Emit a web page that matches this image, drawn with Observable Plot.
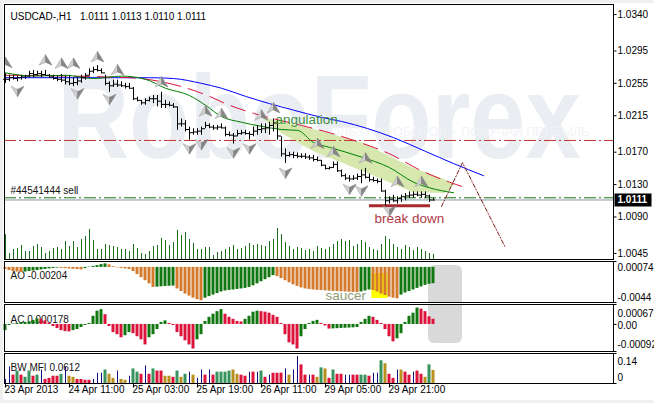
<!DOCTYPE html>
<html><head><meta charset="utf-8">
<script src="https://cdn.jsdelivr.net/npm/d3@7"></script>
<script src="https://cdn.jsdelivr.net/npm/@observablehq/plot@0.6"></script>
<style>
html,body{margin:0;padding:0;background:#f0f0f0;}
#wrap{position:relative;width:654px;height:403px;overflow:hidden;background:#f0f0f0;}
#paper{position:absolute;left:3px;top:3px;width:651px;height:397px;background:#fff;}
#wrap svg{position:absolute;left:0;top:0;}
</style></head>
<body><div id="wrap"><div id="paper"></div></div>
<script>
// ---------- DATA ----------
const highs = [1.0267,1.0265,1.0265,1.0264,1.0265,1.0265,1.0270,1.0271,1.0270,1.0270,
 1.0271,1.0266,1.0265,1.0264,1.0266,1.0264,1.0264,1.0262,1.0262,1.0265,
 1.0267,1.0273,1.0275,1.0277,1.0273,1.0265,1.0257,1.0259,1.0259,1.0257,
 1.0255,1.0255,1.0250,1.0238,1.0234,1.0236,1.0238,1.0240,1.0240,1.0244,
 1.0234,1.0232,1.0230,1.0226,1.0211,1.0209,1.0201,1.0199,1.0199,1.0201,
 1.0207,1.0205,1.0203,1.0203,1.0205,1.0201,1.0195,1.0193,1.0197,1.0197,
 1.0197,1.0195,1.0201,1.0203,1.0205,1.0205,1.0207,1.0211,1.0209,1.0189,
 1.0174,1.0170,1.0170,1.0169,1.0168,1.0168,1.0166,1.0166,1.0164,1.0160,
 1.0154,1.0152,1.0158,1.0158,1.0148,1.0143,1.0141,1.0141,1.0143,1.0148,
 1.0150,1.0143,1.0139,1.0137,1.0137,1.0123,1.0115,1.0117,1.0115,1.0117,
 1.0119,1.0121,1.0121,1.0121,1.0121,1.0121,1.0117,1.0113];
const lows = [1.0255,1.0257,1.0259,1.0257,1.0259,1.0260,1.0262,1.0262,1.0264,1.0262,
 1.0264,1.0261,1.0259,1.0257,1.0256,1.0253,1.0252,1.0251,1.0252,1.0255,
 1.0259,1.0264,1.0267,1.0269,1.0267,1.0252,1.0244,1.0250,1.0250,1.0250,
 1.0248,1.0248,1.0234,1.0232,1.0228,1.0228,1.0232,1.0230,1.0226,1.0224,
 1.0224,1.0226,1.0224,1.0197,1.0201,1.0195,1.0185,1.0191,1.0191,1.0191,
 1.0199,1.0199,1.0197,1.0197,1.0199,1.0189,1.0189,1.0180,1.0189,1.0191,
 1.0191,1.0185,1.0189,1.0191,1.0193,1.0193,1.0191,1.0195,1.0185,1.0164,
 1.0156,1.0164,1.0162,1.0162,1.0162,1.0161,1.0160,1.0158,1.0158,1.0152,
 1.0148,1.0148,1.0150,1.0145,1.0139,1.0135,1.0133,1.0135,1.0135,1.0131,
 1.0137,1.0133,1.0133,1.0131,1.0121,1.0104,1.0106,1.0108,1.0106,1.0108,
 1.0110,1.0113,1.0113,1.0115,1.0113,1.0113,1.0108,1.0110];
const closes = [1.0260,1.0262,1.0261,1.0262,1.0263,1.0264,1.0267,1.0266,1.0267,1.0266,
 1.0265,1.0263,1.0261,1.0260,1.0259,1.0257,1.0255,1.0256,1.0258,1.0262,
 1.0265,1.0270,1.0272,1.0271,1.0268,1.0255,1.0252,1.0254,1.0253,1.0252,
 1.0251,1.0249,1.0236,1.0234,1.0231,1.0234,1.0236,1.0236,1.0233,1.0229,
 1.0229,1.0228,1.0226,1.0205,1.0205,1.0198,1.0194,1.0195,1.0196,1.0199,
 1.0203,1.0201,1.0200,1.0201,1.0200,1.0192,1.0191,1.0190,1.0193,1.0194,
 1.0193,1.0192,1.0196,1.0198,1.0199,1.0200,1.0203,1.0206,1.0190,1.0168,
 1.0166,1.0167,1.0166,1.0165,1.0165,1.0164,1.0163,1.0161,1.0160,1.0154,
 1.0150,1.0151,1.0155,1.0147,1.0141,1.0138,1.0137,1.0138,1.0140,1.0142,
 1.0139,1.0136,1.0135,1.0134,1.0122,1.0110,1.0112,1.0110,1.0113,1.0115,
 1.0116,1.0117,1.0118,1.0117,1.0118,1.0116,1.0111,1.0111];
const volumes = [1000,240,400,440,560,320,320,520,600,480,
 240,320,440,480,400,720,520,720,480,800,
 920,1200,760,400,400,600,560,520,480,400,
 400,320,600,440,240,200,320,520,560,840,
 760,560,680,1160,960,1080,800,640,400,400,
 480,480,160,280,320,400,480,560,400,440,
 520,640,560,600,560,520,720,800,1240,1000,
 680,520,400,480,440,360,400,320,520,440,
 400,480,600,720,800,720,760,520,600,760,
 680,480,400,360,600,920,800,600,480,400,
 560,480,360,480,400,320,240,200];
const aoValues = [-0.00026,-0.00039,-0.00051,-0.00058,-0.00064,-0.00058,-0.00051,-0.00045,-0.00039,-0.00032,
 -0.00026,-0.00019,-0.00013,-0.00008,-0.00012,-0.00015,-0.00019,-0.00023,-0.00027,-0.00031,
 -0.00015,0.00004,0.00013,0.00023,0.00035,0.00044,0.00032,0.00010,-0.00006,-0.00013,
 -0.00019,-0.00026,-0.00051,-0.00090,-0.00129,-0.00167,-0.00206,-0.00251,-0.00247,-0.00243,
 -0.00239,-0.00236,-0.00234,-0.00270,-0.00302,-0.00334,-0.00360,-0.00386,-0.00405,-0.00418,
 -0.00386,-0.00366,-0.00347,-0.00328,-0.00308,-0.00296,-0.00289,-0.00283,-0.00276,-0.00270,
 -0.00263,-0.00251,-0.00231,-0.00206,-0.00180,-0.00154,-0.00129,-0.00103,-0.00116,-0.00141,
 -0.00167,-0.00193,-0.00218,-0.00238,-0.00257,-0.00270,-0.00276,-0.00283,-0.00287,-0.00290,
 -0.00294,-0.00298,-0.00301,-0.00303,-0.00306,-0.00308,-0.00311,-0.00314,-0.00316,-0.00308,
 -0.00296,-0.00283,-0.00289,-0.00308,-0.00334,-0.00353,-0.00373,-0.00386,-0.00394,-0.00347,
 -0.00321,-0.00302,-0.00283,-0.00263,-0.00244,-0.00225,-0.00212,-0.00204];
const acValues = [-0.000209,-0.000035,0.000017,0.000035,0.000052,0.000070,0.000087,0.000139,0.000191,0.000174,
 0.000122,0.000035,-0.000070,-0.000139,-0.000209,-0.000244,-0.000254,-0.000209,-0.000174,-0.000104,
 -0.000035,0.000035,0.000278,0.000452,0.000505,0.000331,-0.000070,-0.000278,-0.000348,-0.000452,
 -0.000383,-0.000278,-0.000313,-0.000418,-0.000522,-0.000696,-0.000452,-0.000348,-0.000174,0.000070,
 0.000122,0.000035,-0.000035,-0.000278,-0.000418,-0.000557,-0.000696,-0.000835,-0.000522,-0.000348,
 0.000104,0.000244,0.000348,0.000435,0.000505,0.000348,0.000244,0.000174,0.000104,0.000087,
 0.000174,0.000278,0.000418,0.000452,0.000435,0.000418,0.000383,0.000313,0.000244,0.000035,
 -0.000348,-0.000626,-0.000696,-0.000835,-0.000418,-0.000174,0.000035,0.000104,0.000139,0.000035,
 -0.000052,-0.000157,-0.000150,-0.000143,-0.000136,-0.000129,-0.000122,-0.000115,-0.000104,0.000070,
 0.000174,0.000278,0.000244,0.000139,0.000035,-0.000174,-0.000418,-0.000592,-0.000487,-0.000313,
 0.000070,0.000278,0.000383,0.000557,0.000522,0.000435,0.000261,0.000178];
const mfiValues = [0.019,0.077,0.039,0.058,0.039,0.029,0.058,0.034,0.039,0.063,
 0.019,0.024,0.034,0.034,0.043,0.077,0.034,0.029,0.019,0.019,
 0.015,0.015,0.019,0.048,0.048,0.063,0.043,0.024,0.058,0.019,
 0.015,0.034,0.068,0.053,0.043,0.082,0.043,0.068,0.058,0.058,
 0.034,0.034,0.029,0.058,0.029,0.043,0.053,0.039,0.024,0.063,
 0.039,0.063,0.039,0.053,0.053,0.053,0.058,0.063,0.043,0.039,
 0.034,0.053,0.053,0.053,0.058,0.029,0.039,0.048,0.048,0.048,
 0.068,0.039,0.063,0.126,0.087,0.039,0.039,0.039,0.029,0.073,
 0.068,0.024,0.063,0.043,0.043,0.039,0.039,0.039,0.039,0.039,
 0.039,0.034,0.048,0.048,0.106,0.092,0.043,0.024,0.063,0.063,
 0.053,0.039,0.053,0.058,0.043,0.029,0.087,0.0612];
const mfiTypes = "nnrgrggrgn" + "rrrrgnbbrr" + "rrnnngbbnb" + "bnggrnrgrr" + "bbrgbgnbnn" +
                 "rnrggggbbr" + "rnrngrnrrr" + "nbnnrrnrbg" + "brgrrnnrrg" + "grnngbrrnb" + "rrnrrbgb";

// Alligator lines (read points)
const jawI = [0,24,36,42,49,54,60,66,72,79,84,97,105,112,119.5];
const jawP = [1.0262,1.0262,1.0262,1.0261,1.0255,1.0249,1.0239,1.0230,1.0222,1.0213,1.0208,1.0188,1.0171,1.0156,1.0141];
const teethI = [0,31,39,44,50,56,62,74,81,88,96,104,111,114.5];
const teethP = [1.0265,1.0262,1.0257,1.0251,1.0241,1.0228,1.0218,1.0203,1.0194,1.0183,1.0168,1.0147,1.0133,1.0127];
const lipsI = [0,7,15,22,29,35,40,46,50,54,59,64,69,73,77,81,89,96,102,106,112];
const lipsP = [1.0268,1.0264,1.0265,1.0261,1.0264,1.0260,1.0249,1.0240,1.0228,1.0214,1.0207,1.0202,1.0198,1.0197,1.0182,1.0176,1.0164,1.0151,1.0133,1.0126,1.0120];

// angulation shading
const shadeI  = [64,69,77,89.5,102,110,112.5];
const shadeHi = [1.0213,1.0208,1.0198,1.0181,1.0150,1.0136,1.0130];
const shadeLo = [1.0213,1.0193,1.0171,1.0146,1.0120,1.0119,1.0130];

// fractals
const upI = [0,10,14,17,23,28,39,50,54,64,67,78,82,90,98,104];
const upP = [1.0280,1.0283,1.0279,1.0279,1.0287,1.0271,1.0256,1.0220,1.0217,1.0215,1.0224,1.0180,1.0170,1.0162,1.0133,1.0133];
const dnI = [3,18,26,46,49,57,61,70,86,89,96];
const dnP = [1.0246,1.0243,1.0236,1.0175,1.0180,1.0170,1.0175,1.0145,1.0125,1.0123,1.0098];

// levels & annotations
const redLevel = 1.01845;
const sellLevel = 1.01137;
const bidPrice = 1.0111;
const support = {i1: 91, i2: 106.25, p: 1.0104};
const projI = [109, 114.25, 125];
const projP = [1.0103, 1.0157, 1.0052];
const notes = [
  {i: 67.5, p: 1.0210, t: "angulation", c: "#3f8f3f"},
  {i: 92.25, p: 1.00882, t: "break down", c: "#b03a48"}
];
const saucer = {i1: 91.6, i2: 95.6, v1: -0.0039, v2: -0.00076, ti: 80, tv: -0.00352};
const grayBox = {i1: 105.75, i2: 114.25, aoTop: 0.00024, acBottom: -0.000648};

const header = "USDCAD-,H1\u00a0\u00a0 1.0111 1.0113 1.0110 1.0111";
const sellLabel = "#44541444 sell";
const priceTicks = [1.0340,1.0295,1.0255,1.0215,1.0170,1.0130,1.0090,1.0045];
const aoTicks = [{v: 0.00074, t: "0.00074", dy: 6.5}, {v: -0.0044, t: "-0.0044", dy: -5}];
const acTicks = [{v: 0.000679, t: "0.000679", dy: 9}, {v: 0, t: "0.00", dy: 1}, {v: -0.00092, t: "-0.00092", dy: -7}];
const mfiTicks = [{v: 0.14, t: "0.14", dy: 8}, {v: 0, t: "0", dy: -6}];
const timeIdx = [0,16,32,48,64,80,96];
const timeLabels = ["23 Apr 2013","24 Apr 11:00","25 Apr 03:00","25 Apr 19:00","26 Apr 11:00","29 Apr 05:00","29 Apr 21:00"];

// ---------- BUILD ----------
const N = highs.length;
const bars = d3.range(N).map(i => ({i, h: highs[i], l: lows[i], c: closes[i], o: i ? closes[i-1] : closes[0]}));
const vol = volumes.map((v, i) => ({i, v}));
const GREEN = "#117711", ORANGE = "#d47a2c", RED = "#dc143c";
const ao = aoValues.map((v, i) => ({i, v, col: i === 0 || v < aoValues[i-1] ? ORANGE : GREEN}));
const ac = acValues.map((v, i) => ({i, v, col: i > 0 && v < acValues[i-1] ? RED : GREEN}));
const mfiCol = {g: "#37945e", b: "#b8901e", r: "#dc143c", n: "#101080"};
const mfi = mfiValues.map((v, i) => ({i, v, t: mfiTypes[i], col: mfiCol[mfiTypes[i]]}));
const zip = (is, ps) => is.map((i, k) => ({i, p: ps[k]}));
const shade = shadeI.map((i, k) => ({i, hi: shadeHi[k], lo: shadeLo[k]}));

const sym = pts => ({draw(ctx) { ctx.moveTo(pts[0][0], pts[0][1]); for (const q of pts.slice(1)) ctx.lineTo(q[0], q[1]); ctx.closePath(); }});
const upL = sym([[0,-6],[-6.5,4.5],[0,1.5]]), upR = sym([[0,-6],[6.5,4.5],[0,1.5]]);
const dnL = sym([[0,6],[-6.5,-4.5],[0,-1.5]]), dnR = sym([[0,6],[6.5,-4.5],[0,-1.5]]);
const hTick = {draw(ctx) { ctx.moveTo(0, 0); ctx.lineTo(3, 0); }};
const vTick = {draw(ctx) { ctx.moveTo(0, 0); ctx.lineTo(0, 4); }};
const boxSym = {draw(ctx) { ctx.rect(-18, -6.5, 37, 13); }};

const FONT = "'Liberation Sans', Arial, Helvetica, sans-serif";
const wrap = document.getElementById("wrap");
function panel(top, bottom, yDomain, marks) {
  const svg = Plot.plot({
    width: 654, height: 403,
    marginLeft: 4, marginRight: 41, marginTop: top, marginBottom: 403 - bottom,
    x: {domain: [-0.25, 152], axis: null},
    y: {domain: yDomain, axis: null},
    style: {background: "transparent", fontFamily: FONT, fontSize: "10px", overflow: "visible", color: "black"},
    marks
  });
  wrap.appendChild(svg);
  return svg;
}
function rightLabels(ticks) {
  return [
    Plot.dot(ticks, {y: "v", frameAnchor: "right", symbol: hTick, fill: "none", stroke: "black", strokeWidth: 1}),
    ...ticks.map(t => Plot.text([t], {y: "v", text: "t", frameAnchor: "right", dx: 4, dy: t.dy, textAnchor: "start", fill: "black"}))
  ];
}

// main price panel
const mainSvg = panel(4, 259, [1.00375, 1.03524], [
  Plot.text(["RoboForex"], {text: d => d, frameAnchor: "top-left", dx: 53, dy: 70, textAnchor: "start", fontSize: 118, fontWeight: "bold", fill: "#eaedf2"}),
  Plot.text(["ИСПОЛЬЗУЙ РОБОТОВ – ПОЛУЧАЙ ПРИБЫЛЬ"], {text: d => d, frameAnchor: "top-left", dx: 298, dy: 123, textAnchor: "start", fontSize: 12, fill: "#f1f3f6"}),
  Plot.areaY(shade, {x: "i", y1: "lo", y2: "hi", fill: "#d6e8ad"}),
  Plot.ruleY([redLevel], {stroke: "#c83232", strokeDasharray: "12,3,2,3"}),
  Plot.ruleY([sellLevel], {stroke: "#137513", strokeDasharray: "12,3,2,3"}),
  Plot.ruleY([bidPrice], {stroke: "#8797a8"}),
  Plot.line(zip(jawI, jawP), {x: "i", y: "p", stroke: "#0000ff", strokeWidth: 1, curve: "monotone-x"}),
  Plot.line(zip(teethI, teethP), {x: "i", y: "p", stroke: "#dc143c", strokeWidth: 1, strokeDasharray: "15,8", curve: "monotone-x"}),
  Plot.line(zip(lipsI, lipsP), {x: "i", y: "p", stroke: "#008000", strokeWidth: 1, curve: "monotone-x"}),
  Plot.line(zip(projI, projP), {x: "i", y: "p", stroke: "#7a1515", strokeWidth: 1, strokeDasharray: "4,2,1,2"}),
  Plot.ruleY([support], {y: "p", x1: "i1", x2: "i2", stroke: "#a8292e", strokeWidth: 3}),
  Plot.ruleX(bars, {x: "i", y1: "l", y2: "h", stroke: "black"}),
  Plot.ruleY(bars, {y: "o", x1: d => d.i - 0.5, x2: "i", stroke: "black"}),
  Plot.ruleY(bars, {y: "c", x1: "i", x2: d => d.i + 0.5, stroke: "black"}),
  Plot.dot(zip(upI, upP), {x: "i", y: "p", symbol: upL, fill: "#d0d0d0", stroke: "#9a9a9a", strokeWidth: 0.5, clip: true}),
  Plot.dot(zip(upI, upP), {x: "i", y: "p", symbol: upR, fill: "#868686", stroke: "#7a7a7a", strokeWidth: 0.5, clip: true}),
  Plot.dot(zip(dnI, dnP), {x: "i", y: "p", symbol: dnL, fill: "#d0d0d0", stroke: "#9a9a9a", strokeWidth: 0.5, clip: true}),
  Plot.dot(zip(dnI, dnP), {x: "i", y: "p", symbol: dnR, fill: "#868686", stroke: "#7a7a7a", strokeWidth: 0.5, clip: true}),
  ...notes.map(n => Plot.text([n], {x: "i", y: "p", text: "t", textAnchor: "start", fontSize: 13.5, fill: n.c})),
  Plot.text([sellLabel], {text: d => d, y: () => sellLevel, frameAnchor: "left", dx: 6, dy: -6.5, textAnchor: "start", fill: "#111"}),
  Plot.text([header], {text: d => d, frameAnchor: "top-left", dx: 6, dy: 8.8, textAnchor: "start", fill: "black"}),
  ...rightLabels(priceTicks.map(v => ({v, t: v.toFixed(4), dy: 0}))),
  Plot.dot([bidPrice], {y: d => d, frameAnchor: "right", dx: 19, symbol: boxSym, fill: "black", stroke: "none"}),
  Plot.text([bidPrice], {y: d => d, text: d => d.toFixed(4), frameAnchor: "right", dx: 4, textAnchor: "start", fill: "white", fontWeight: "bold"}),
  Plot.frame({stroke: "black"})
]);

// volume overlay in main panel
panel(220, 259, [0, 1560], [
  Plot.ruleX(vol, {x: "i", y1: () => 0, y2: "v", stroke: "#1d6e1d"})
]);

// AO panel
panel(261, 302, [-0.0044, 0.00074], [
  Plot.rect([grayBox], {x1: "i1", x2: "i2", y1: () => -0.006, y2: "aoTop", fill: "#d9d9d9", rx: 6, clip: true}),
  Plot.rect([saucer], {x1: "i1", x2: "i2", y1: "v1", y2: "v2", fill: "#ffff00"}),
  Plot.text(["AO -0.00204"], {text: d => d, frameAnchor: "top-left", dx: 6, dy: 10.5, textAnchor: "start", fill: "#111"}),
  Plot.rect(ao, {x1: d => d.i - 0.375, x2: d => d.i + 0.375, y1: () => 0, y2: "v", fill: d => d.col}),
  Plot.text([saucer], {x: "ti", y: "tv", text: () => "saucer", textAnchor: "start", fontSize: 13.5, fill: "#8e9c74"}),
  ...rightLabels(aoTicks),
  Plot.frame({stroke: "black"})
]);

// AC panel
panel(304, 351, [-0.00092, 0.000679], [
  Plot.rect([grayBox], {x1: "i1", x2: "i2", y1: "acBottom", y2: () => 0.002, fill: "#d9d9d9", rx: 6, clip: true}),
  Plot.text(["AC 0.000178"], {text: d => d, frameAnchor: "top-left", dx: 6, dy: 11, textAnchor: "start", fill: "#111"}),
  Plot.rect(ac, {x1: d => d.i - 0.375, x2: d => d.i + 0.375, y1: () => 0, y2: "v", fill: d => d.col}),
  ...rightLabels(acTicks),
  Plot.frame({stroke: "black"})
]);

// BW MFI panel + time axis
const timeData = timeIdx.map((i, k) => ({i, t: timeLabels[k]}));
panel(353, 383, [0, 0.14], [
  Plot.text(["BW MFI 0.0612"], {text: d => d, frameAnchor: "top-left", dx: 6, dy: 10, textAnchor: "start", fill: "#111"}),
  Plot.rect(mfi.filter(d => d.t !== "n"), {x1: d => d.i - 0.375, x2: d => d.i + 0.375, y1: () => 0, y2: "v", fill: d => d.col}),
  Plot.ruleX(mfi.filter(d => d.t === "n"), {x: "i", y1: () => 0, y2: "v", stroke: d => d.col}),
  ...rightLabels(mfiTicks),
  Plot.dot(timeData, {x: "i", frameAnchor: "bottom", symbol: vTick, fill: "none", stroke: "black", strokeWidth: 1}),
  Plot.text(timeData, {x: "i", text: "t", frameAnchor: "bottom", dx: -1, dy: 9, textAnchor: "start", fill: "black"}),
  Plot.frame({stroke: "black"})
]);

// watermark stretching
d3.select(mainSvg).selectAll("text").each(function() {
  if (this.textContent === "RoboForex") { this.setAttribute("textLength", 523); this.setAttribute("lengthAdjust", "spacingAndGlyphs"); }
  if (this.textContent.startsWith("ИСПОЛЬЗУЙ")) { this.setAttribute("textLength", 287); this.setAttribute("lengthAdjust", "spacingAndGlyphs"); }
});
</script>
</body></html>
